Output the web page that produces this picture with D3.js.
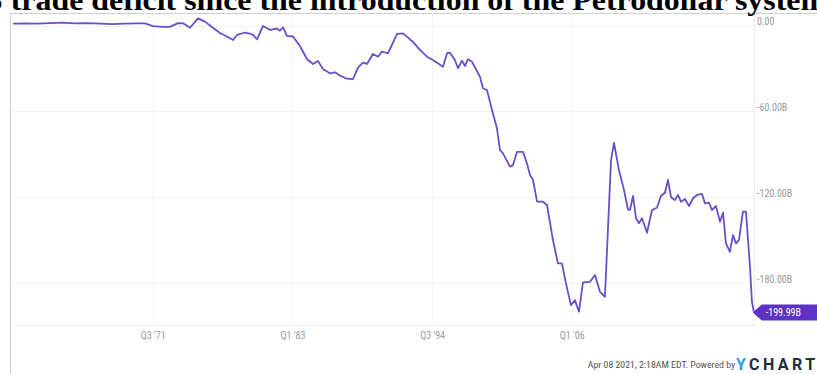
<!DOCTYPE html>
<html>
<head>
<meta charset="utf-8">
<script src="https://cdn.jsdelivr.net/npm/d3@7"></script>
<style>
  body { margin: 0; background: #fff; }
  svg { display: block; }
</style>
</head>
<body>
<script>
        //1. Consts/global variables
            const w = 817;
            const h = 374;
            const plot = {left: 13, right: 754, top: 13, bottom: 325};

        //2. Data (quarter as decimal year, balance in $B)
            const years = [
                1960.0, 1961.0, 1962.0, 1963.05, 1964.03, 1965.1, 1966.1, 1967.16, 1968.15, 1969.2,
                1970.2, 1970.87, 1971.52, 1972.35, 1972.92, 1973.58, 1974.0, 1974.57, 1975.23, 1975.8,
                1976.38, 1977.04, 1977.53, 1978.11, 1978.44, 1979.1, 1979.5, 1979.76, 1980.09, 1980.58,
                1981.16, 1981.73, 1981.98, 1982.23, 1982.55, 1983.05, 1983.62, 1984.2, 1984.7, 1985.1,
                1985.52, 1986.09, 1986.5, 1986.92, 1987.49, 1987.99, 1988.4, 1988.81, 1989.14, 1989.63,
                1990.05, 1990.37, 1990.87, 1991.28, 1991.61, 1992.1, 1992.43, 1992.93, 1993.5, 1994.08,
                1994.57, 1995.4, 1995.73, 1995.97, 1996.38, 1996.63, 1996.96, 1997.21, 1997.45, 1997.78,
                1998.44, 1998.69, 1999.02, 1999.43, 1999.84, 2000.09, 2000.34, 2000.91, 2001.16, 2001.49,
                2001.98, 2002.31, 2002.56, 2002.81, 2003.14, 2003.63, 2003.96, 2004.45, 2004.86, 2005.19,
                2005.52, 2005.93, 2006.26, 2006.59, 2006.92, 2007.5, 2007.91, 2008.32, 2008.73, 2009.23,
                2009.47, 2009.88, 2010.3, 2010.62, 2010.79, 2011.04, 2011.29, 2011.53, 2011.78, 2012.19,
                2012.6, 2013.01, 2013.34, 2013.67, 2013.92, 2014.17, 2014.49, 2014.74, 2014.99, 2015.32,
                2015.65, 2015.98, 2016.31, 2016.72, 2016.96, 2017.29, 2017.54, 2017.87, 2018.2, 2018.45,
                2018.69, 2019.02, 2019.27, 2019.52, 2019.76, 2020.09, 2020.34, 2020.67, 2020.83, 2020.98
            ];
            const values = [
                1.3, 1.5, 1.3, 1.7, 2.0, 1.5, 1.7, 1.3, 1.0, 1.3,
                1.5, 1.5, -0.4, -1.0, -1.0, 1.7, 1.5, -1.6, 5.0, 2.7,
                -1.0, -5.2, -7.3, -10.1, -6.6, -4.9, -5.6, -6.6, -9.7, -0.3,
                -3.1, -2.1, -3.6, -1.3, -7.3, -7.7, -14.3, -23.4, -26.9, -24.8,
                -30.4, -33.4, -32.7, -35.0, -37.2, -37.4, -29.4, -26.0, -26.9, -19.9,
                -21.8, -18.3, -19.4, -11.9, -5.9, -5.5, -7.8, -11.5, -17.1, -21.8,
                -24.1, -28.8, -19.4, -19.0, -24.1, -29.9, -24.6, -28.3, -23.6, -25.3,
                -35.8, -43.9, -45.1, -59.1, -71.9, -87.1, -89.4, -98.7, -97.6, -88.3,
                -88.3, -96.4, -104.5, -108.0, -123.2, -123.2, -125.5, -150.0, -166.3, -166.3,
                -180.3, -195.5, -192.0, -200.1, -179.6, -179.2, -174.5, -186.2, -189.7, -94.1,
                -82.0, -101.0, -115.0, -128.5, -129.0, -119.2, -134.8, -138.3, -134.8, -144.9,
                -129.0, -127.4, -119.2, -116.9, -108.0, -120.1, -122.0, -118.5, -123.2, -121.3,
                -126.2, -120.8, -118.5, -117.8, -124.3, -123.9, -129.0, -126.2, -137.2, -130.9,
                -152.3, -158.2, -146.5, -152.3, -150.0, -130.2, -130.2, -168.7, -193.1, -199.99
            ];

            const yTicks = [0, -60, -120, -180];
            const yTickLabels = ["0.00", "-60.00B", "-120.00B", "-180.00B"];
            const xTicks = [1971.5, 1983.0, 1994.5, 2006.0];
            const xTickLabels = ["Q3 '71", "Q1 '83", "Q3 '94", "Q1 '06"];
            const lastLabel = "-199.99B";

            const data = years.map((yr, i) => [yr, values[i]]);

        //3. Scales
            const xScale = d3.scaleLinear()
                             .domain([1960, 2021])
                             .range([plot.left, plot.right]);

            const yScale = d3.scaleLinear()
                             .domain([-209.4, 8.74])
                             .range([plot.bottom, plot.top]);

        //4. SVG
            const svg = d3.select("body")
                        .append("svg")
                        .attr("width", w)
                        .attr("height", h);

            svg.append("rect")
                .attr("width", w)
                .attr("height", h)
                .attr("fill", "#fff");

        //5. Frame of the embedded chart
            svg.append("path")
                .attr("d", "M10.5," + h + " V13.5 H" + w)
                .attr("fill", "none")
                .attr("stroke", "#cfcfcf")
                .attr("stroke-width", 1);

        //6. Grid
            svg.append("g")
                .selectAll("line")
                .data(yTicks)
                .enter()
                .append("line")
                .attr("x1", plot.left)
                .attr("x2", plot.right)
                .attr("y1", d => Math.round(yScale(d)) + 0.5)
                .attr("y2", d => Math.round(yScale(d)) + 0.5)
                .attr("stroke", "#f1f1f1");

            svg.append("g")
                .selectAll("line")
                .data(xTicks)
                .enter()
                .append("line")
                .attr("x1", d => Math.round(xScale(d)) + 0.5)
                .attr("x2", d => Math.round(xScale(d)) + 0.5)
                .attr("y1", plot.top)
                .attr("y2", plot.bottom)
                .attr("stroke", "#f3f3f3");

            // plot edges: bottom and right
            svg.append("path")
                .attr("d", "M" + plot.left + "," + (plot.bottom + 0.5) + " H" + (plot.right + 0.5) + " V" + plot.top)
                .attr("fill", "none")
                .attr("stroke", "#ececec");

        //7. Axes (labels only, no domain or tick marks)
            const rightAxis = d3.axisRight()
                               .scale(yScale)
                               .tickValues(yTicks)
                               .tickFormat((d, i) => yTickLabels[i])
                               .tickSize(0)
                               .tickPadding(3);

            const bottomAxis = d3.axisBottom()
                                .scale(xScale)
                                .tickValues(xTicks)
                                .tickFormat((d, i) => xTickLabels[i])
                                .tickSize(0)
                                .tickPadding(7);

            const gy = svg.append("g")
                .attr("transform", "translate(" + plot.right + ",-4)")
                .call(rightAxis);

            const gx = svg.append("g")
                .attr("transform", "translate(0," + plot.bottom + ")")
                .call(bottomAxis);

            [gy, gx].forEach(g => {
                g.select(".domain").remove();
                g.selectAll("text")
                    .attr("fill", "#9a9a9a")
                    .style("font-family", "'Liberation Sans Narrow', 'Roboto Condensed', Roboto, sans-serif")
                    .style("font-size", "10px");
            });

        //8. Line
            const line = d3.line()
                           .x(d => xScale(d[0]))
                           .y(d => yScale(d[1]));

            svg.append("path")
                .datum(data)
                .attr("d", line)
                .attr("fill", "none")
                .attr("stroke", "#6a4fc9")
                .attr("stroke-width", 1.8)
                .attr("stroke-linejoin", "round");

        //9. Last value flag
            const last = data[data.length - 1];
            const lx = xScale(last[0]) - 1;
            const ly = yScale(last[1]) + 1;
            svg.append("path")
                .attr("d", "M" + lx + "," + ly + " L" + (lx + 9) + "," + (ly - 8) + " H" + (w + 5) +
                           " V" + (ly + 8) + " H" + (lx + 9) + " Z")
                .attr("fill", "#5d33c4");

            svg.append("text")
                .attr("x", lx + 13)
                .attr("y", ly + 3.5)
                .attr("fill", "#fff")
                .style("font-family", "'Liberation Sans Narrow', 'Roboto Condensed', Roboto, sans-serif")
                .style("font-size", "10px")
                .text(lastLabel);

        //10. Footer
            svg.append("text")
                .attr("x", 735)
                .attr("y", 368)
                .attr("text-anchor", "end")
                .attr("fill", "#555")
                .style("font-family", "'Liberation Sans Narrow', 'Roboto Condensed', Roboto, sans-serif")
                .style("font-size", "9.8px")
                .text("Apr 08 2021, 2:18AM EDT. Powered by");

            const logo = svg.append("text")
                .attr("x", 736)
                .attr("y", 370)
                .style("font-family", "Roboto, 'Liberation Sans', sans-serif")
                .style("font-weight", "bold")
                .style("font-size", "16px")
                .style("letter-spacing", "3.4px");
            logo.append("tspan").attr("fill", "#2a9fe0").text("Y");
            logo.append("tspan").attr("fill", "#1f2a44").text("CHARTS");

        //11. Title (sits on top, cut at the top edge)
            svg.append("text")
                .attr("x", -38)
                .attr("y", 10)
                .attr("textLength", 865)
                .attr("lengthAdjust", "spacingAndGlyphs")
                .attr("fill", "#000")
                .style("font-family", "'Liberation Serif', 'Times New Roman', serif")
                .style("font-weight", "bold")
                .style("font-size", "29px")
                .text("US trade deficit since the introduction of the Petrodollar system");
</script>
</body>
</html>
